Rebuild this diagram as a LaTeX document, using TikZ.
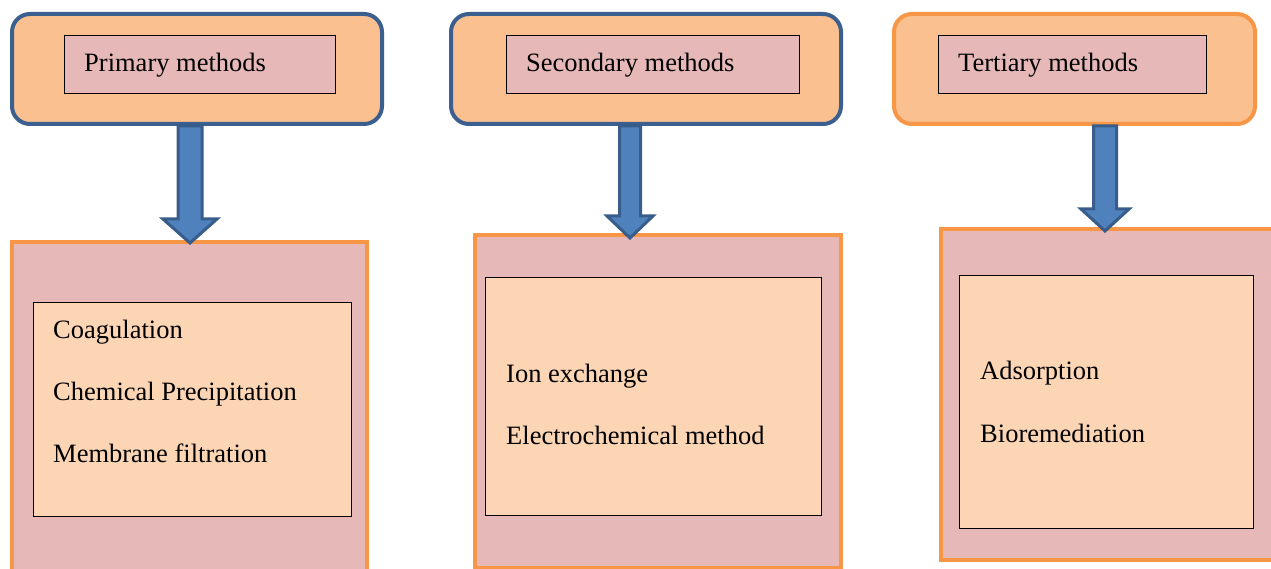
\documentclass[tikz,border=0pt]{standalone}
\usepackage{fontspec}
\setmainfont{Liberation Serif}
\usetikzlibrary{calc}
\definecolor{hdrfill}{HTML}{FAC090}
\definecolor{hdrblue}{HTML}{3B5F8F}
\definecolor{pinkfill}{HTML}{E6B9B8}
\definecolor{peach}{HTML}{FCD5B5}
\definecolor{orng}{HTML}{F79646}
\definecolor{arrfill}{HTML}{4F81BD}
\definecolor{arrline}{HTML}{385D8A}
\tikzset{
  hdrbox/.style={draw=hdrblue, line width=4pt, fill=hdrfill, rounded corners=18pt, anchor=north west, inner sep=0pt},
  hdrboxo/.style={hdrbox, draw=orng},
  titlebox/.style={draw=black, line width=0.8pt, fill=pinkfill, anchor=north west, inner sep=0pt, minimum height=58pt},
  outerbox/.style={draw=orng, line width=4pt, fill=pinkfill, anchor=north west, inner sep=0pt},
  innerbox/.style={draw=black, line width=0.8pt, fill=peach, anchor=north west, inner sep=0pt},
  txt/.style={anchor=base west, inner sep=0pt, font=\fontsize{26.5}{30}\selectfont},
  blockarrow/.style={draw=arrline, line width=3pt, fill=arrfill, line join=miter},
}
% #1 top centre coordinate, #2 half shaft, #3 head start offset, #4 half head, #5 tip offset
\newcommand{\blkarrow}[5]{%
  \draw[blockarrow] ($(#1)+(-#2,0)$) -- ($(#1)+(-#2,#3)$) -- ($(#1)+(-#4,#3)$) -- ($(#1)+(0,#5)$)
    -- ($(#1)+(#4,#3)$) -- ($(#1)+(#2,#3)$) -- ($(#1)+(#2,0)$) -- cycle;}
\begin{document}
\begin{tikzpicture}[x=1pt,y=-1pt]
\useasboundingbox (0,0) rectangle (1271,569);
\clip (0,0) rectangle (1271,569);
% header boxes
\node[hdrbox, minimum width=370pt, minimum height=110pt] (h1) at (10,12) {};
\node[hdrbox, minimum width=390pt, minimum height=110pt] (h2) at (449,12) {};
\node[hdrboxo, minimum width=361pt, minimum height=110pt] (h3) at (892,12) {};
\node[titlebox, minimum width=271pt] (t1) at (64,35) {};
\node[titlebox, minimum width=293pt] (t2) at (506,35) {};
\node[titlebox, minimum width=268pt] (t3) at (938,35) {};
\node[txt] (t1l) at (84,72) {Primary methods};
\node[txt] (t2l) at (526,72) {Secondary methods};
\node[txt] (t3l) at (958,72) {Tertiary methods};
% bottom boxes
\node[outerbox, minimum width=355pt, minimum height=345pt] (b1) at (10,240) {};
\node[outerbox, minimum width=366pt, minimum height=333pt] (b2) at (472.5,233) {};
\node[outerbox, minimum width=350pt, minimum height=331pt] (b3) at (939,227) {};
\node[innerbox, minimum width=318pt, minimum height=214pt] (i1) at (33,302) {};
\node[innerbox, minimum width=336pt, minimum height=238pt] (i2) at (485,277) {};
\node[innerbox, minimum width=294pt, minimum height=253pt] (i3) at (959,275) {};
\node[txt] (c1) at (53,338) {Coagulation};
\node[txt] (c2) at (53,400) {Chemical Precipitation};
\node[txt] (c3) at (53,462) {Membrane filtration};
\node[txt] (s1) at (506,382) {Ion exchange};
\node[txt] (s2) at (506,444) {Electrochemical method};
\node[txt] (r1) at (980,379) {Adsorption};
\node[txt] (r2) at (980,442) {Bioremediation};
% arrows
\coordinate (a1) at (h1.south -| 190,0);
\coordinate (a2) at (h2.south -| 630,0);
\coordinate (a3) at (h3.south -| 1105,0);
\blkarrow{a1}{12}{93}{27}{117}
\blkarrow{a2}{10.5}{90}{23}{112}
\blkarrow{a3}{11.5}{83}{24}{105}
\end{tikzpicture}
\end{document}
